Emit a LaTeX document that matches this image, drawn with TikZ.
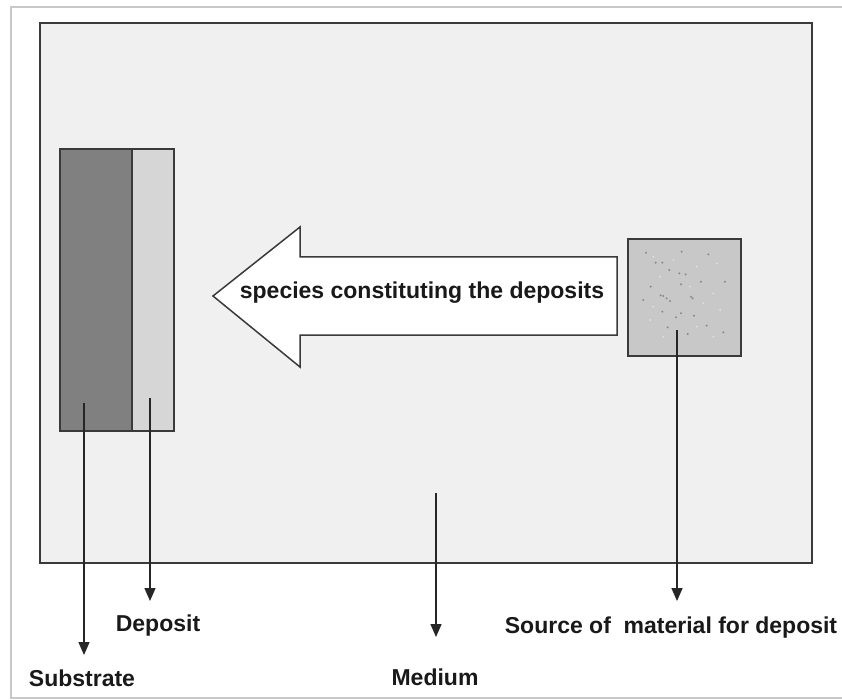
\documentclass[tikz,border=0pt]{standalone}
\usepackage{fontspec}
\setmainfont{Liberation Sans}
\usetikzlibrary{arrows.meta}
\definecolor{framegrey}{HTML}{C8C8C8}
\definecolor{mediumfill}{HTML}{F0F0F0}
\definecolor{edgecol}{HTML}{3A3A3A}
\definecolor{subfill}{HTML}{808080}
\definecolor{depfill}{HTML}{D6D6D6}
\definecolor{srcfill}{HTML}{C8C8C8}
\definecolor{speck}{HTML}{8A8A8A}
\definecolor{speckl}{HTML}{E2E2E2}
\begin{document}
\begin{tikzpicture}[x=1pt,y=-1pt,
  box/.style={draw=edgecol, line width=2pt, inner sep=0pt, outer sep=0pt},
  conn/.style={draw=black!85, line width=1.5pt, -{Triangle[length=13pt,width=11pt]}},
  lbl/.style={font=\fontsize{23}{26}\selectfont\bfseries, text=black!90, inner sep=0pt},
  dot/.style={fill=speck, inner sep=0pt, minimum size=2.2pt, circle},
  ldot/.style={fill=speckl, inner sep=0pt, minimum size=2pt, circle}]
\useasboundingbox (0,0) rectangle (842,700);
\fill[white] (0,0) rectangle (842,700);
\draw[framegrey, line width=1.5pt] (842,7) -- (11,7) -- (11,698) -- (842,698);
% medium box
\node[box, fill=mediumfill, minimum width=772pt, minimum height=540pt] (medium) at (426,293) {};
% substrate and deposit
\node[box, fill=subfill, minimum width=72pt, minimum height=282pt] (substrate) at (96,290) {};
\node[box, fill=depfill, minimum width=42pt, minimum height=282pt] (deposit) at (153,290) {};
% source
\node[box, fill=srcfill, minimum width=113pt, minimum height=117pt] (source) at (684.5,297.5) {};
\foreach \dx/\dy in {78/68,185/65,265/73,107/98,127/98,148/120,178/130,197/133,243/155,315/155,92/170,183/163,130/198,150/213,213/200,70/210,127/245,183/250,168/262,222/257,260/287,143/292,203/312,310/307,122/196,140/205,218/205}
  \node[dot] at ({620+\dx/3},{230+\dy/3}) {};
\foreach \dx/\dy in {100/80,160/90,230/110,290/100,120/140,210/170,280/190,100/230,250/220,300/240,90/270,230/290,130/320,280/320}
  \node[ldot] at ({620+\dx/3},{230+\dy/3}) {};
% big arrow
\draw[edgecol, line width=1.5pt, fill=white, line join=miter]
  (213,296) -- (300,227) -- (300,257) -- (617,257) -- (617,335) -- (300,335) -- (300,367) -- cycle;
\node[lbl] (species) at (422,293) {species constituting the deposits};
% connectors
\coordinate (subA) at (84,403);  \coordinate (subB) at (84,655);
\coordinate (depA) at (150,398); \coordinate (depB) at (150,601);
\coordinate (medA) at (436,493); \coordinate (medB) at (436,637);
\coordinate (srcA) at (677,330); \coordinate (srcB) at (677,601);
\draw[conn] (subA) -- (subB);
\draw[conn] (depA) -- (depB);
\draw[conn] (medA) -- (medB);
\draw[conn] (srcA) -- (srcB);
\node[lbl] (sublbl) at (82,678) {Substrate};
\node[lbl] (deplbl) at (158,626) {Deposit};
\node[lbl] (medlbl) at (435,677) {Medium};
\node[lbl] (srclbl) at (671,628) {Source of\ \ material for deposit};
\end{tikzpicture}
\end{document}
